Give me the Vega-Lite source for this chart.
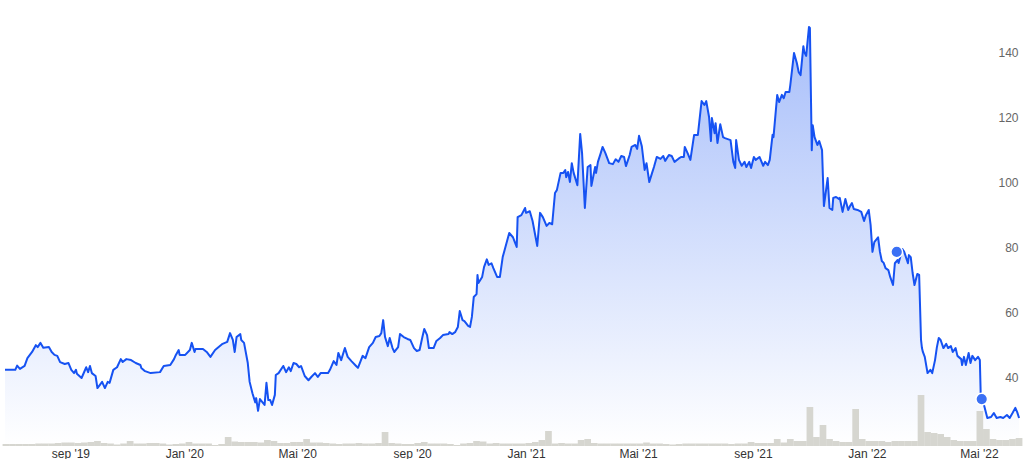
{
"$schema": "https://vega.github.io/schema/vega-lite/v6.json",
"width": 1025, "height": 446,
"autosize": {"type": "pad"},
"padding": 0,
"background": "white",
"config": {"view": {"stroke": null}, "font": "Liberation Sans"},
"datasets": {
"price": [
{"date":"2019-06-23","price":42.2},{"date":"2019-07-04","price":42.2},{"date":"2019-07-06","price":43.5},{"date":"2019-07-09","price":42.5},{"date":"2019-07-14","price":43.4},{"date":"2019-07-17","price":45.8},{"date":"2019-07-22","price":47.7},{"date":"2019-07-26","price":49.8},{"date":"2019-07-28","price":49.2},{"date":"2019-07-31","price":50.5},
{"date":"2019-08-03","price":49.0},{"date":"2019-08-09","price":49.2},{"date":"2019-08-12","price":47.7},{"date":"2019-08-15","price":46.8},{"date":"2019-08-18","price":46.5},{"date":"2019-08-21","price":44.6},{"date":"2019-08-26","price":44.0},{"date":"2019-08-30","price":44.3},
{"date":"2019-09-02","price":42.2},{"date":"2019-09-05","price":41.2},{"date":"2019-09-07","price":42.2},{"date":"2019-09-08","price":41.0},{"date":"2019-09-13","price":39.7},{"date":"2019-09-18","price":43.0},{"date":"2019-09-20","price":41.5},{"date":"2019-09-22","price":43.4},{"date":"2019-09-24","price":41.2},{"date":"2019-09-28","price":40.3},{"date":"2019-09-30","price":36.6},
{"date":"2019-10-05","price":38.5},{"date":"2019-10-08","price":36.6},{"date":"2019-10-11","price":38.5},{"date":"2019-10-13","price":38.2},{"date":"2019-10-17","price":42.2},{"date":"2019-10-21","price":43.0},{"date":"2019-10-25","price":45.5},{"date":"2019-10-27","price":44.6},{"date":"2019-10-31","price":45.5},
{"date":"2019-11-05","price":45.2},{"date":"2019-11-10","price":44.3},{"date":"2019-11-15","price":43.7},{"date":"2019-11-16","price":42.8},{"date":"2019-11-20","price":41.8},{"date":"2019-11-26","price":41.2},
{"date":"2019-12-06","price":41.5},{"date":"2019-12-10","price":43.4},{"date":"2019-12-17","price":43.7},{"date":"2019-12-21","price":45.5},{"date":"2019-12-23","price":46.8},{"date":"2019-12-26","price":48.3},{"date":"2019-12-27","price":46.8},
{"date":"2020-01-02","price":46.8},{"date":"2020-01-07","price":48.3},{"date":"2020-01-09","price":50.5},{"date":"2020-01-12","price":47.7},{"date":"2020-01-13","price":48.6},{"date":"2020-01-21","price":48.6},{"date":"2020-01-25","price":47.7},{"date":"2020-01-29","price":46.2},
{"date":"2020-02-03","price":48.3},{"date":"2020-02-11","price":50.2},{"date":"2020-02-16","price":50.8},{"date":"2020-02-19","price":53.5},{"date":"2020-02-22","price":51.4},{"date":"2020-02-24","price":47.7},{"date":"2020-02-26","price":52.3},
{"date":"2020-03-01","price":53.2},{"date":"2020-03-02","price":51.4},{"date":"2020-03-05","price":50.5},{"date":"2020-03-09","price":44.3},{"date":"2020-03-11","price":38.5},{"date":"2020-03-14","price":35.0},{"date":"2020-03-17","price":32.2},{"date":"2020-03-18","price":33.5},{"date":"2020-03-20","price":29.6},{"date":"2020-03-22","price":33.2},{"date":"2020-03-27","price":31.4},{"date":"2020-03-29","price":38.2},{"date":"2020-03-31","price":32.9},
{"date":"2020-04-02","price":32.9},{"date":"2020-04-04","price":31.4},{"date":"2020-04-07","price":34.5},{"date":"2020-04-08","price":40.6},{"date":"2020-04-11","price":41.2},{"date":"2020-04-16","price":43.4},{"date":"2020-04-19","price":41.5},{"date":"2020-04-22","price":43.0},{"date":"2020-04-24","price":41.8},{"date":"2020-04-27","price":44.3},{"date":"2020-04-30","price":44.0},
{"date":"2020-05-03","price":43.0},{"date":"2020-05-05","price":43.4},{"date":"2020-05-09","price":40.3},{"date":"2020-05-13","price":39.0},{"date":"2020-05-16","price":40.0},{"date":"2020-05-20","price":41.2},{"date":"2020-05-23","price":40.0},{"date":"2020-05-26","price":41.2},{"date":"2020-05-30","price":41.2},
{"date":"2020-06-03","price":41.2},{"date":"2020-06-05","price":42.2},{"date":"2020-06-09","price":44.9},{"date":"2020-06-12","price":43.7},{"date":"2020-06-14","price":47.4},{"date":"2020-06-17","price":45.2},{"date":"2020-06-21","price":48.9},{"date":"2020-06-24","price":46.2},{"date":"2020-06-28","price":44.9},
{"date":"2020-07-03","price":43.4},{"date":"2020-07-05","price":42.8},{"date":"2020-07-10","price":46.5},{"date":"2020-07-13","price":45.8},{"date":"2020-07-17","price":49.2},{"date":"2020-07-21","price":50.5},{"date":"2020-07-24","price":52.3},{"date":"2020-07-28","price":52.6},{"date":"2020-07-30","price":53.5},
{"date":"2020-08-01","price":57.5},{"date":"2020-08-03","price":52.3},{"date":"2020-08-06","price":49.5},{"date":"2020-08-08","price":52.0},{"date":"2020-08-11","price":48.9},{"date":"2020-08-13","price":47.7},{"date":"2020-08-17","price":49.2},{"date":"2020-08-19","price":53.2},{"date":"2020-08-23","price":52.3},{"date":"2020-08-27","price":51.7},{"date":"2020-08-30","price":51.4},
{"date":"2020-09-03","price":48.9},{"date":"2020-09-06","price":48.0},{"date":"2020-09-09","price":48.3},{"date":"2020-09-12","price":52.3},{"date":"2020-09-14","price":54.8},{"date":"2020-09-17","price":52.9},{"date":"2020-09-19","price":48.9},{"date":"2020-09-24","price":48.9},{"date":"2020-09-27","price":51.1},
{"date":"2020-10-01","price":52.0},{"date":"2020-10-04","price":52.9},{"date":"2020-10-10","price":53.2},{"date":"2020-10-11","price":53.8},{"date":"2020-10-14","price":53.2},{"date":"2020-10-17","price":53.8},{"date":"2020-10-20","price":55.4},{"date":"2020-10-22","price":60.3},{"date":"2020-10-25","price":57.5},{"date":"2020-10-27","price":57.2},{"date":"2020-10-31","price":55.7},
{"date":"2020-11-02","price":55.4},{"date":"2020-11-04","price":58.5},{"date":"2020-11-06","price":64.6},{"date":"2020-11-09","price":65.5},{"date":"2020-11-10","price":71.4},{"date":"2020-11-11","price":68.9},{"date":"2020-11-15","price":70.8},{"date":"2020-11-17","price":73.8},{"date":"2020-11-20","price":76.2},{"date":"2020-11-22","price":74.5},{"date":"2020-11-25","price":75.0},{"date":"2020-11-27","price":73.5},
{"date":"2020-12-01","price":70.8},{"date":"2020-12-04","price":70.8},{"date":"2020-12-07","price":76.9},{"date":"2020-12-09","price":79.0},{"date":"2020-12-14","price":84.3},{"date":"2020-12-18","price":83.0},{"date":"2020-12-20","price":81.5},{"date":"2020-12-22","price":80.0},{"date":"2020-12-23","price":89.2},{"date":"2020-12-27","price":89.8},{"date":"2020-12-31","price":92.0},
{"date":"2021-01-01","price":90.5},{"date":"2021-01-05","price":91.0},{"date":"2021-01-08","price":88.0},{"date":"2021-01-13","price":80.3},{"date":"2021-01-16","price":90.5},{"date":"2021-01-19","price":89.2},{"date":"2021-01-23","price":86.5},{"date":"2021-01-26","price":87.4},{"date":"2021-01-29","price":87.0},
{"date":"2021-02-01","price":96.6},{"date":"2021-02-03","price":97.5},{"date":"2021-02-07","price":102.8},{"date":"2021-02-10","price":102.8},{"date":"2021-02-12","price":103.7},{"date":"2021-02-13","price":101.5},{"date":"2021-02-15","price":103.1},{"date":"2021-02-17","price":100.0},{"date":"2021-02-19","price":105.8},{"date":"2021-02-21","price":102.8},{"date":"2021-02-25","price":99.0},{"date":"2021-02-28","price":114.8},
{"date":"2021-03-02","price":108.9},{"date":"2021-03-05","price":92.0},{"date":"2021-03-08","price":104.6},{"date":"2021-03-11","price":105.2},{"date":"2021-03-12","price":98.8},{"date":"2021-03-16","price":104.6},{"date":"2021-03-17","price":102.8},{"date":"2021-03-19","price":106.2},{"date":"2021-03-22","price":108.9},{"date":"2021-03-24","price":110.8},{"date":"2021-03-27","price":108.9},{"date":"2021-03-31","price":105.8},
{"date":"2021-04-04","price":105.5},{"date":"2021-04-07","price":107.0},{"date":"2021-04-10","price":106.2},{"date":"2021-04-13","price":108.0},{"date":"2021-04-16","price":107.7},{"date":"2021-04-18","price":104.9},{"date":"2021-04-22","price":108.3},{"date":"2021-04-24","price":110.8},{"date":"2021-04-28","price":111.4},{"date":"2021-04-30","price":110.2},
{"date":"2021-05-02","price":114.2},{"date":"2021-05-05","price":111.0},{"date":"2021-05-08","price":103.7},{"date":"2021-05-10","price":105.8},{"date":"2021-05-13","price":100.0},{"date":"2021-05-16","price":102.8},{"date":"2021-05-18","price":104.6},{"date":"2021-05-21","price":107.7},{"date":"2021-05-25","price":107.1},{"date":"2021-05-28","price":108.0},{"date":"2021-05-30","price":106.5},
{"date":"2021-06-03","price":108.3},{"date":"2021-06-06","price":108.0},{"date":"2021-06-09","price":106.2},{"date":"2021-06-13","price":107.1},{"date":"2021-06-16","price":107.7},{"date":"2021-06-19","price":107.7},{"date":"2021-06-20","price":110.8},{"date":"2021-06-23","price":108.9},{"date":"2021-06-26","price":106.8},{"date":"2021-06-30","price":114.5},
{"date":"2021-07-04","price":114.5},{"date":"2021-07-08","price":124.9},{"date":"2021-07-11","price":123.7},{"date":"2021-07-13","price":124.9},{"date":"2021-07-16","price":120.0},{"date":"2021-07-18","price":112.6},{"date":"2021-07-19","price":119.7},{"date":"2021-07-22","price":115.0},{"date":"2021-07-23","price":118.1},{"date":"2021-07-25","price":112.0},{"date":"2021-07-28","price":117.8},{"date":"2021-07-31","price":113.8},
{"date":"2021-08-02","price":113.5},{"date":"2021-08-08","price":112.9},{"date":"2021-08-11","price":106.2},{"date":"2021-08-13","price":104.3},{"date":"2021-08-14","price":112.9},{"date":"2021-08-17","price":106.8},{"date":"2021-08-20","price":105.0},{"date":"2021-08-23","price":106.2},{"date":"2021-08-25","price":104.6},{"date":"2021-08-28","price":106.2},{"date":"2021-08-30","price":104.3},
{"date":"2021-09-02","price":107.7},{"date":"2021-09-04","price":106.8},{"date":"2021-09-08","price":107.7},{"date":"2021-09-12","price":105.0},{"date":"2021-09-14","price":106.2},{"date":"2021-09-17","price":105.2},{"date":"2021-09-19","price":106.8},{"date":"2021-09-22","price":114.5},{"date":"2021-09-23","price":113.8},{"date":"2021-09-27","price":126.8},{"date":"2021-09-29","price":124.6},
{"date":"2021-10-02","price":126.8},{"date":"2021-10-04","price":125.8},{"date":"2021-10-06","price":127.7},{"date":"2021-10-10","price":127.7},{"date":"2021-10-11","price":129.8},{"date":"2021-10-15","price":139.7},{"date":"2021-10-18","price":136.6},{"date":"2021-10-20","price":133.8},{"date":"2021-10-22","price":132.9},{"date":"2021-10-25","price":141.8},{"date":"2021-10-26","price":140.0},{"date":"2021-10-28","price":138.8},{"date":"2021-10-31","price":147.7},
{"date":"2021-11-01","price":147.4},{"date":"2021-11-03","price":109.8},{"date":"2021-11-04","price":117.5},{"date":"2021-11-06","price":113.8},{"date":"2021-11-09","price":111.4},{"date":"2021-11-11","price":112.6},{"date":"2021-11-14","price":109.8},{"date":"2021-11-16","price":92.6},{"date":"2021-11-20","price":101.2},{"date":"2021-11-22","price":92.0},{"date":"2021-11-25","price":91.4},{"date":"2021-11-26","price":95.1},{"date":"2021-11-29","price":95.4},
{"date":"2021-12-02","price":94.8},{"date":"2021-12-03","price":95.1},{"date":"2021-12-06","price":90.8},{"date":"2021-12-09","price":94.8},{"date":"2021-12-12","price":91.4},{"date":"2021-12-14","price":92.6},{"date":"2021-12-16","price":93.5},{"date":"2021-12-18","price":91.7},{"date":"2021-12-22","price":91.4},{"date":"2021-12-26","price":90.8},{"date":"2021-12-29","price":88.0},{"date":"2021-12-31","price":89.8},
{"date":"2022-01-03","price":91.4},{"date":"2022-01-05","price":86.8},{"date":"2022-01-07","price":78.5},{"date":"2022-01-09","price":81.5},{"date":"2022-01-13","price":83.0},{"date":"2022-01-15","price":78.5},{"date":"2022-01-17","price":75.7},{"date":"2022-01-19","price":75.1},{"date":"2022-01-21","price":73.5},{"date":"2022-01-24","price":72.9},{"date":"2022-01-26","price":70.8},{"date":"2022-01-29","price":68.3},{"date":"2022-01-31","price":75.0},
{"date":"2022-02-03","price":76.0},{"date":"2022-02-04","price":75.1},{"date":"2022-02-08","price":79.4},{"date":"2022-02-10","price":78.5},{"date":"2022-02-14","price":75.0},{"date":"2022-02-15","price":77.5},{"date":"2022-02-17","price":76.9},{"date":"2022-02-19","price":72.0},{"date":"2022-02-21","price":68.3},{"date":"2022-02-24","price":71.7},{"date":"2022-02-26","price":71.4},{"date":"2022-02-28","price":51.4},
{"date":"2022-03-01","price":48.9},{"date":"2022-03-02","price":47.7},{"date":"2022-03-04","price":46.2},{"date":"2022-03-07","price":41.2},{"date":"2022-03-10","price":42.2},{"date":"2022-03-12","price":41.2},{"date":"2022-03-15","price":45.2},{"date":"2022-03-17","price":49.2},{"date":"2022-03-19","price":52.0},{"date":"2022-03-21","price":51.4},{"date":"2022-03-24","price":48.9},{"date":"2022-03-27","price":50.2},{"date":"2022-03-29","price":48.9},
{"date":"2022-04-01","price":49.5},{"date":"2022-04-03","price":47.7},{"date":"2022-04-06","price":48.9},{"date":"2022-04-08","price":46.5},{"date":"2022-04-12","price":45.5},{"date":"2022-04-13","price":43.7},{"date":"2022-04-15","price":46.2},{"date":"2022-04-17","price":43.7},{"date":"2022-04-20","price":47.4},{"date":"2022-04-22","price":44.3},{"date":"2022-04-24","price":46.5},{"date":"2022-04-27","price":45.2},{"date":"2022-04-30","price":46.2},
{"date":"2022-05-02","price":45.2},{"date":"2022-05-03","price":33.8},{"date":"2022-05-05","price":32.9},{"date":"2022-05-07","price":30.8},{"date":"2022-05-10","price":27.4},{"date":"2022-05-14","price":27.7},{"date":"2022-05-17","price":28.9},{"date":"2022-05-20","price":27.4},{"date":"2022-05-24","price":27.7},{"date":"2022-05-27","price":27.4},{"date":"2022-05-31","price":28.3},
{"date":"2022-06-03","price":27.4},{"date":"2022-06-06","price":28.9},{"date":"2022-06-09","price":30.5},{"date":"2022-06-11","price":29.2},{"date":"2022-06-13","price":27.4}
],
"volume": [
{"date":"2019-06-24","volume":0.2},{"date":"2019-07-01","volume":0.2},{"date":"2019-07-08","volume":0.2},{"date":"2019-07-15","volume":0.2},{"date":"2019-07-22","volume":0.2},{"date":"2019-07-29","volume":0.25},{"date":"2019-08-05","volume":0.25},{"date":"2019-08-12","volume":0.25},{"date":"2019-08-19","volume":0.3},{"date":"2019-08-26","volume":0.35},
{"date":"2019-09-02","volume":0.35},{"date":"2019-09-09","volume":0.3},{"date":"2019-09-16","volume":0.35},{"date":"2019-09-23","volume":0.4},{"date":"2019-09-30","volume":0.5},{"date":"2019-10-07","volume":0.3},{"date":"2019-10-14","volume":0.25},{"date":"2019-10-21","volume":0.15},{"date":"2019-10-28","volume":0.25},{"date":"2019-11-04","volume":0.5},
{"date":"2019-11-11","volume":0.25},{"date":"2019-11-18","volume":0.25},{"date":"2019-11-25","volume":0.3},{"date":"2019-12-02","volume":0.3},{"date":"2019-12-09","volume":0.25},{"date":"2019-12-16","volume":0.15},{"date":"2019-12-23","volume":0.2},{"date":"2019-12-30","volume":0.25},
{"date":"2020-01-06","volume":0.4},{"date":"2020-01-13","volume":0.25},{"date":"2020-01-20","volume":0.25},{"date":"2020-01-27","volume":0.25},{"date":"2020-02-03","volume":0.1},{"date":"2020-02-10","volume":0.2},{"date":"2020-02-17","volume":0.9},{"date":"2020-02-24","volume":0.45},{"date":"2020-03-02","volume":0.4},{"date":"2020-03-09","volume":0.4},
{"date":"2020-03-16","volume":0.4},{"date":"2020-03-23","volume":0.35},{"date":"2020-03-30","volume":0.6},{"date":"2020-04-06","volume":0.5},{"date":"2020-04-13","volume":0.3},{"date":"2020-04-20","volume":0.3},{"date":"2020-04-27","volume":0.4},{"date":"2020-05-04","volume":0.4},{"date":"2020-05-11","volume":0.7},{"date":"2020-05-18","volume":0.35},
{"date":"2020-05-25","volume":0.35},{"date":"2020-06-01","volume":0.3},{"date":"2020-06-08","volume":0.25},{"date":"2020-06-15","volume":0.2},{"date":"2020-06-22","volume":0.25},{"date":"2020-06-29","volume":0.25},{"date":"2020-07-06","volume":0.3},{"date":"2020-07-13","volume":0.25},{"date":"2020-07-20","volume":0.25},{"date":"2020-07-27","volume":0.3},
{"date":"2020-08-03","volume":1.4},{"date":"2020-08-10","volume":0.3},{"date":"2020-08-17","volume":0.25},{"date":"2020-08-24","volume":0.2},{"date":"2020-08-31","volume":0.2},{"date":"2020-09-07","volume":0.3},{"date":"2020-09-14","volume":0.4},{"date":"2020-09-21","volume":0.25},{"date":"2020-09-28","volume":0.25},{"date":"2020-10-05","volume":0.25},
{"date":"2020-10-12","volume":0.2},{"date":"2020-10-19","volume":0.1},{"date":"2020-10-26","volume":0.25},{"date":"2020-11-02","volume":0.3},{"date":"2020-11-09","volume":0.5},{"date":"2020-11-16","volume":0.45},{"date":"2020-11-23","volume":0.25},{"date":"2020-11-30","volume":0.3},{"date":"2020-12-07","volume":0.25},{"date":"2020-12-14","volume":0.25},
{"date":"2020-12-21","volume":0.25},{"date":"2020-12-28","volume":0.25},{"date":"2021-01-04","volume":0.3},{"date":"2021-01-11","volume":0.4},{"date":"2021-01-18","volume":0.6},{"date":"2021-01-25","volume":1.5},{"date":"2021-02-01","volume":0.25},{"date":"2021-02-08","volume":0.3},{"date":"2021-02-15","volume":0.25},{"date":"2021-02-22","volume":0.25},
{"date":"2021-03-01","volume":0.6},{"date":"2021-03-08","volume":0.7},{"date":"2021-03-15","volume":0.3},{"date":"2021-03-22","volume":0.25},{"date":"2021-03-29","volume":0.25},{"date":"2021-04-05","volume":0.25},{"date":"2021-04-12","volume":0.25},{"date":"2021-04-19","volume":0.25},{"date":"2021-04-26","volume":0.25},{"date":"2021-05-03","volume":0.25},
{"date":"2021-05-10","volume":0.35},{"date":"2021-05-17","volume":0.25},{"date":"2021-05-24","volume":0.25},{"date":"2021-05-31","volume":0.2},{"date":"2021-06-07","volume":0.15},{"date":"2021-06-14","volume":0.2},{"date":"2021-06-21","volume":0.25},{"date":"2021-06-28","volume":0.25},{"date":"2021-07-05","volume":0.25},{"date":"2021-07-12","volume":0.25},
{"date":"2021-07-19","volume":0.25},{"date":"2021-07-26","volume":0.25},{"date":"2021-08-02","volume":0.25},{"date":"2021-08-09","volume":0.2},{"date":"2021-08-16","volume":0.25},{"date":"2021-08-23","volume":0.25},{"date":"2021-08-30","volume":0.4},{"date":"2021-09-06","volume":0.3},{"date":"2021-09-13","volume":0.3},{"date":"2021-09-20","volume":0.3},
{"date":"2021-09-27","volume":0.7},{"date":"2021-10-04","volume":0.35},{"date":"2021-10-11","volume":0.7},{"date":"2021-10-18","volume":0.5},{"date":"2021-10-25","volume":0.5},{"date":"2021-11-01","volume":3.9},{"date":"2021-11-08","volume":0.9},{"date":"2021-11-15","volume":2.1},{"date":"2021-11-22","volume":0.7},{"date":"2021-11-29","volume":0.5},
{"date":"2021-12-06","volume":0.4},{"date":"2021-12-13","volume":0.4},{"date":"2021-12-20","volume":3.7},{"date":"2021-12-27","volume":0.7},{"date":"2022-01-03","volume":0.5},{"date":"2022-01-10","volume":0.5},{"date":"2022-01-17","volume":0.5},{"date":"2022-01-24","volume":0.4},{"date":"2022-01-31","volume":0.5},{"date":"2022-02-07","volume":0.5},
{"date":"2022-02-14","volume":0.5},{"date":"2022-02-21","volume":0.5},{"date":"2022-02-28","volume":5.1},{"date":"2022-03-07","volume":1.4},{"date":"2022-03-14","volume":1.3},{"date":"2022-03-21","volume":1.2},{"date":"2022-03-28","volume":0.9},{"date":"2022-04-04","volume":0.6},{"date":"2022-04-11","volume":0.5},{"date":"2022-04-18","volume":0.5},
{"date":"2022-04-25","volume":0.5},{"date":"2022-05-02","volume":3.5},{"date":"2022-05-09","volume":1.7},{"date":"2022-05-16","volume":0.7},{"date":"2022-05-23","volume":0.6},{"date":"2022-05-30","volume":0.6},{"date":"2022-06-06","volume":0.7},{"date":"2022-06-13","volume":0.8}
],
"events": [
{"date":"2022-02-02","price":78.5},{"date":"2022-05-04","price":33.2}
]
},
"layer": [
{
"data": {"name": "price"},
"mark": {"type": "area", "line": false, "clip": true, "color": {"gradient": "linear", "x1": 0, "y1": 0, "x2": 0, "y2": 1, "stops": [{"offset": 0, "color": "#a7befa"}, {"offset": 1, "color": "#ffffff"}]}},
"encoding": {
"x": {"field": "date", "type": "temporal", "title": null,
"scale": {"domain": [{"year": 2019, "month": 6, "date": 23}, {"year": 2022, "month": 6, "date": 14}]},
"axis": {"values": [{"year": 2019, "month": 9, "date": 1}, {"year": 2020, "month": 1, "date": 1}, {"year": 2020, "month": 5, "date": 1}, {"year": 2020, "month": 9, "date": 1}, {"year": 2021, "month": 1, "date": 1}, {"year": 2021, "month": 5, "date": 1}, {"year": 2021, "month": 9, "date": 1}, {"year": 2022, "month": 1, "date": 1}, {"year": 2022, "month": 5, "date": 1}],
"labelExpr": "(month(datum.value)==0?'Jan':month(datum.value)==4?'Mai':'sep') + \" '\" + timeFormat(datum.value, '%y')",
"domain": false, "ticks": false, "grid": false, "labelOverlap": false, "labelFlush": false,
"labelPadding": 2, "labelFontSize": 12, "labelColor": "#333333", "labelFont": "Liberation Sans"}},
"y": {"field": "price", "type": "quantitative", "title": null,
"scale": {"domain": [18.77, 156], "nice": false, "zero": false},
"axis": {"orient": "right", "values": [40, 60, 80, 100, 120, 140], "offset": -7, "labelPadding": 0, "labelAlign": "right",
"domain": false, "ticks": false, "grid": false, "labelFontSize": 12, "labelColor": "#666666", "labelFont": "Liberation Sans"}},
"y2": {"datum": 18.77}
}
},
{
"data": {"name": "volume"},
"mark": {"type": "bar", "color": "#d6d6d0", "size": 6.7},
"encoding": {
"x": {"field": "date", "type": "temporal"},
"y": {"field": "volume", "type": "quantitative", "scale": {"domain": [0, 44.6], "nice": false}, "axis": null}
}
},
{
"data": {"name": "price"},
"mark": {"type": "line", "color": "#1652f2", "strokeWidth": 2, "strokeJoin": "round"},
"encoding": {
"x": {"field": "date", "type": "temporal"},
"y": {"field": "price", "type": "quantitative", "scale": {"domain": [18.77, 156], "nice": false, "zero": false}, "axis": null}
}
},
{
"data": {"name": "events"},
"mark": {"type": "circle", "color": "#3b70f4", "opacity": 1, "size": 135, "stroke": "white", "strokeWidth": 1.5},
"encoding": {
"x": {"field": "date", "type": "temporal"},
"y": {"field": "price", "type": "quantitative", "scale": {"domain": [18.77, 156], "nice": false, "zero": false}, "axis": null}
}
}
],
"resolve": {"scale": {"y": "independent"}}
}
